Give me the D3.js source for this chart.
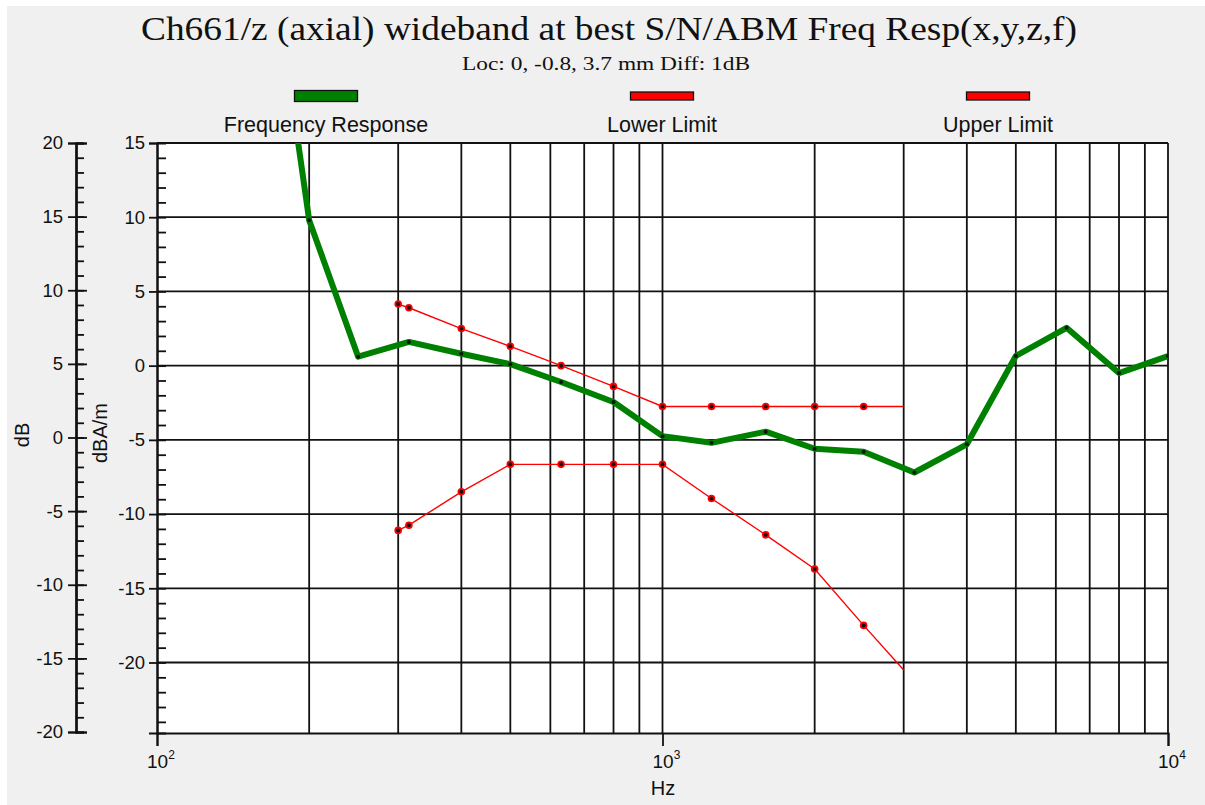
<!DOCTYPE html>
<html>
<head>
<meta charset="utf-8">
<script src="https://cdn.jsdelivr.net/npm/d3@7"></script>
<style>
  body { margin: 0; background: #fff; }
  svg text { fill: #111; }
</style>
</head>
<body>
<div id="chart"></div>
<script>
const width = 1205;
const height = 805;

// measured response, 1/3 octave (dBA/m)
const respFreq = [160, 200, 250, 315, 400, 500, 630, 800, 1000, 1250, 1600, 2000, 2500, 3150, 4000, 5000, 6300, 8000, 10000];
const respVals = [33, 9.8, 0.6, 1.6, 0.8, 0.1, -1.1, -2.45, -4.75, -5.2, -4.45, -5.6, -5.8, -7.2, -5.3, 0.65, 2.55, -0.5, 0.65];

// mask limits
const limitFreq = [300, 315, 400, 500, 630, 800, 1000, 1250, 1600, 2000, 2500, 3000];
const upperVals = [4.15, 3.9, 2.5, 1.3, 0, -1.4, -2.75, -2.75, -2.75, -2.75, -2.75, -2.75];
const lowerVals = [-11.1, -10.75, -8.5, -6.65, -6.65, -6.65, -6.65, -8.95, -11.4, -13.7, -17.5, -20.5];

// ticks
const decadeTicks = [100, 1000, 10000];
const decadeExp = ["2", "3", "4"];
const dbTicks = [20, 15, 10, 5, 0, -5, -10, -15, -20];
const dbamTicks = [15, 10, 5, 0, -5, -10, -15, -20];
const legendNames = ["Frequency Response", "Lower Limit", "Upper Limit"];

const titleText = "Ch661/z (axial) wideband at best S/N/ABM Freq Resp(x,y,z,f)";
const subText = "Loc: 0, -0.8, 3.7 mm Diff: 1dB";

const green = "#008000";
const red = "#ff0000";

const plot = { left: 157, right: 1168, top: 143, bottom: 733 };

const svg = d3.select("#chart")
    .append("svg")
    .attr("width", width)
    .attr("height", height)
    .style("font-family", "'Liberation Sans', Arial, sans-serif");

// background, thin white strip top/left like the original window grab
svg.append("rect")
    .attr("x", 7).attr("y", 6)
    .attr("width", width - 7).attr("height", height - 6)
    .attr("fill", "#f0f0f0");

svg.append("rect")
    .attr("x", plot.left).attr("y", plot.top)
    .attr("width", plot.right - plot.left).attr("height", plot.bottom - plot.top)
    .attr("fill", "#fff");

const x = d3.scaleLog().domain([100, 10000]).range([plot.left, plot.right]);
const y = d3.scaleLinear().domain([-24.75, 15]).range([plot.bottom, plot.top]);
const yDb = d3.scaleLinear().domain([-20, 20]).range([732, 143]);

// plain hyphen minus, as in the original
const fmt = d => String(d);

// titles
svg.append("text")
    .attr("x", 609).attr("y", 40)
    .attr("text-anchor", "middle")
    .style("font-family", "'Liberation Serif', 'Times New Roman', serif")
    .style("font-size", "34px")
    .attr("textLength", 936)
    .attr("lengthAdjust", "spacingAndGlyphs")
    .text(titleText);

svg.append("text")
    .attr("x", 606).attr("y", 70)
    .attr("text-anchor", "middle")
    .style("font-family", "'Liberation Serif', 'Times New Roman', serif")
    .style("font-size", "18px")
    .attr("textLength", 288)
    .attr("lengthAdjust", "spacingAndGlyphs")
    .text(subText);

// legend
const legendX = [326, 662, 998];
const legendColor = [green, red, red];
const legendH = [11, 8, 8];
legendNames.forEach((name, i) => {
    svg.append("rect")
        .attr("x", legendX[i] - 31.5)
        .attr("y", 96 - legendH[i] / 2)
        .attr("width", 63)
        .attr("height", legendH[i])
        .attr("fill", legendColor[i])
        .attr("stroke", "#111")
        .attr("stroke-width", 1.3);
    svg.append("text")
        .attr("x", legendX[i]).attr("y", 132)
        .attr("text-anchor", "middle")
        .style("font-size", "21.5px")
        .text(name);
});

// grid
const vGrid = d3.range(200, 1000, 100).concat(d3.range(1000, 10001, 1000));
svg.append("g")
    .selectAll("line")
    .data(vGrid)
    .enter().append("line")
    .attr("x1", d => x(d)).attr("x2", d => x(d))
    .attr("y1", plot.top).attr("y2", plot.bottom)
    .attr("stroke", "#111")
    .attr("stroke-width", 1.8);

svg.append("g")
    .selectAll("line")
    .data(dbamTicks)
    .enter().append("line")
    .attr("x1", plot.left).attr("x2", plot.right)
    .attr("y1", d => y(d)).attr("y2", d => y(d))
    .attr("stroke", "#111")
    .attr("stroke-width", 1.8);

// right-hand (dBA/m) axis at plot edge
svg.append("g")
    .attr("transform", `translate(${plot.left},0)`)
    .call(d3.axisLeft(y).tickValues(dbamTicks).tickSize(8).tickPadding(4).tickFormat(fmt));
svg.append("g")
    .attr("transform", `translate(${plot.left},0)`)
    .call(d3.axisRight(y).tickValues(d3.range(-24, 15)).tickSize(9).tickFormat(""));

// far-left dB axis
svg.append("g")
    .attr("transform", "translate(76,0)")
    .call(d3.axisLeft(yDb).tickValues(dbTicks).tickSize(8).tickPadding(5).tickFormat(fmt));
svg.append("g")
    .attr("transform", "translate(76,0)")
    .call(d3.axisRight(yDb).tickValues(d3.range(-20, 21)).tickSize(8).tickFormat(""));
svg.append("g")
    .attr("transform", "translate(76,0)")
    .call(d3.axisRight(yDb).tickValues(dbTicks).tickSize(11).tickFormat(""));

// bottom axis
svg.append("g")
    .attr("transform", `translate(0,${plot.bottom})`)
    .call(d3.axisBottom(x).tickValues(decadeTicks).tickSize(13).tickFormat(""));

svg.selectAll(".domain")
    .attr("stroke", "#111")
    .attr("stroke-width", 2);
svg.selectAll(".tick line")
    .attr("stroke", "#111")
    .attr("stroke-width", 1.8);
svg.selectAll(".tick text")
    .style("font-size", "18.5px")
    .style("font-family", "'Liberation Sans', Arial, sans-serif")
    .attr("fill", "#111");

// decade labels with superscript exponent
decadeTicks.forEach((d, i) => {
    const t = svg.append("text")
        .attr("x", x(d) - 10).attr("y", 768)
        .style("font-size", "19px");
    t.append("tspan").text("10");
    t.append("tspan")
        .attr("dy", -9)
        .style("font-size", "12px")
        .text(decadeExp[i]);
});

// axis titles
svg.append("text")
    .attr("x", 663).attr("y", 795)
    .attr("text-anchor", "middle")
    .style("font-size", "20px")
    .text("Hz");

svg.append("text")
    .attr("transform", "translate(29,435) rotate(-90)")
    .attr("text-anchor", "middle")
    .style("font-size", "20px")
    .text("dB");

svg.append("text")
    .attr("transform", "translate(107,433) rotate(-90)")
    .attr("text-anchor", "middle")
    .style("font-size", "20px")
    .text("dBA/m");

// data
svg.append("clipPath").attr("id", "plotClip")
    .append("rect")
    .attr("x", plot.left).attr("y", plot.top)
    .attr("width", plot.right - plot.left).attr("height", plot.bottom - plot.top);

const line = d3.line()
    .x(d => x(d[0]))
    .y(d => y(d[1]));

const respData = d3.zip(respFreq, respVals);
const upperData = d3.zip(limitFreq, upperVals);
const lowerData = d3.zip(limitFreq, lowerVals);

const dataG = svg.append("g").attr("clip-path", "url(#plotClip)");

[upperData, lowerData].forEach(series => {
    dataG.append("path")
        .datum(series)
        .attr("d", line)
        .attr("fill", "none")
        .attr("stroke", red)
        .attr("stroke-width", 1.4);
});

dataG.append("path")
    .datum(respData)
    .attr("d", line)
    .attr("fill", "none")
    .attr("stroke", green)
    .attr("stroke-width", 6)
    .attr("stroke-linejoin", "round");

// limit markers (last point is drawn without one)
[upperData, lowerData].forEach(series => {
    const pts = series.slice(0, -1);
    dataG.append("g")
        .selectAll("circle")
        .data(pts)
        .enter().append("circle")
        .attr("cx", d => x(d[0]))
        .attr("cy", d => y(d[1]))
        .attr("r", 3.8)
        .attr("fill", red);
    dataG.append("g")
        .selectAll("circle")
        .data(pts)
        .enter().append("circle")
        .attr("cx", d => x(d[0]))
        .attr("cy", d => y(d[1]))
        .attr("r", 2)
        .attr("fill", "#111");
});

dataG.append("g")
    .selectAll("circle")
    .data(respData)
    .enter().append("circle")
    .attr("cx", d => x(d[0]))
    .attr("cy", d => y(d[1]))
    .attr("r", 2)
    .attr("fill", "#111");
</script>
</body>
</html>
